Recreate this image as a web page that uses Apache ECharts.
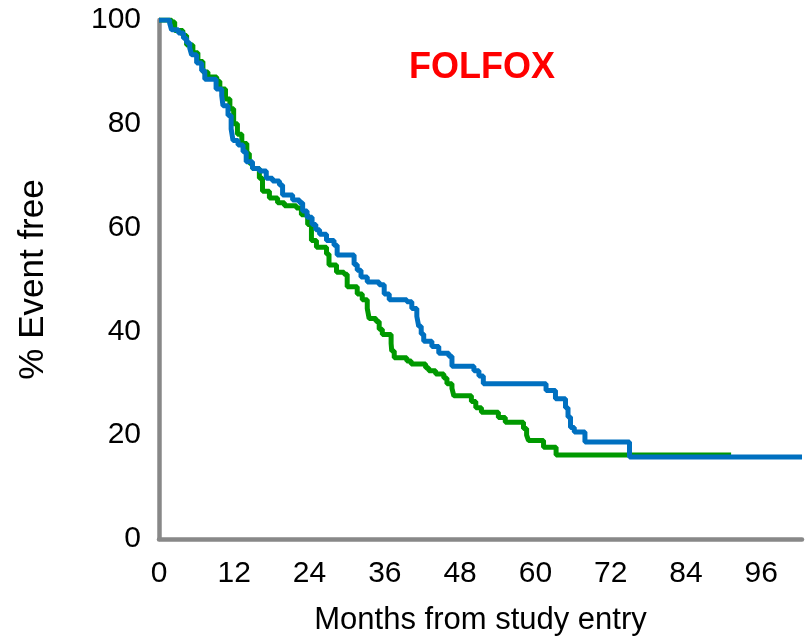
<!DOCTYPE html>
<html>
<head>
<meta charset="utf-8">
<script src="https://cdn.jsdelivr.net/npm/echarts@6/dist/echarts.min.js"></script>
<style>
  html, body { margin: 0; padding: 0; background: #fff; }
  #chart { width: 805px; height: 641px; }
</style>
</head>
<body>
<div id="chart"></div>
<script>
// x ticks (months) and y ticks (% event free)
var xTicks = [0, 12, 24, 36, 48, 60, 72, 84, 96];
var yTicks = [0, 20, 40, 60, 80, 100];

// Kaplan-Meier curves: [month, % event free] at each drop
var greenArm = [
    [0, 100], [2, 99.6], [2.5, 98], [3.8, 97], [4.4, 95.2], [5.4, 93.7], [6.2, 92],
    [7, 90], [7.8, 89], [9.2, 88.2], [9.7, 86.7], [10.6, 84.8], [11.3, 82.9],
    [11.9, 80], [12.5, 78], [13.2, 76.2], [14, 74.3], [14.4, 72.4], [14.9, 71.4],
    [16, 69.5], [16.5, 67], [17.6, 65.7], [18.9, 64.8], [20, 64.2], [21.9, 63.8],
    [22.7, 62.5], [23.7, 60.6], [24.3, 57.5], [25.1, 56.2], [26.7, 54.9], [27.1, 52.8],
    [28.3, 51.4], [29.5, 51], [30, 48.6], [31.6, 47.2], [32.4, 46.1], [33.2, 44.4],
    [33.5, 42.5], [34.6, 41.9], [35.1, 40.4], [35.6, 39.4], [37, 37.7], [37.1, 36.2],
    [37.5, 34.9], [39.5, 34.3], [40.2, 33.7], [42.5, 33], [43, 32.4], [44.1, 31.8],
    [45.4, 31], [45.9, 29.9], [46.7, 29], [47, 27.6], [49.8, 26.5], [50.5, 25.3],
    [51.4, 24.4], [54.1, 23.4], [55.2, 22.5], [58.1, 21.3], [58.6, 20], [58.9, 19],
    [61.3, 17.7], [63.3, 16.2], [91.2, 16.2]
];
var blueArm = [
    [0, 100], [1.7, 99.4], [2, 98.1], [3.1, 97.5], [3.9, 96.5], [4.4, 95.6], [4.9, 94.6],
    [5.2, 93.3], [6, 91.7], [6.8, 90.2], [7.3, 88.6], [9.1, 86.7], [10, 85.4],
    [10.2, 83.5], [11, 81.6], [11.5, 79], [11.8, 76.8], [12.6, 75.9], [13.4, 74.6],
    [13.9, 72.7], [14.9, 71.4], [16, 70.9], [17.1, 69.5], [18.1, 69], [19.2, 68.2],
    [19.7, 66.3], [21.3, 65.3], [22.4, 64.8], [22.9, 63.2], [23.6, 62], [24.4, 60.6],
    [25, 59.6], [25.6, 58.7], [26.7, 57.5], [27.9, 56.6], [28.4, 54.7], [31.1, 52.9],
    [31.6, 51.8], [32.2, 50.5], [33.2, 49.5], [35.1, 49], [35.9, 47.2], [36.7, 46.1],
    [39.5, 45.7], [40.3, 44.4], [41.1, 42.9], [41.4, 41], [41.8, 39.5], [42.2, 38.1],
    [43.5, 37.1], [44.6, 35.8], [46.2, 35.2], [46.7, 33.3], [50.2, 32.4], [51, 31.4],
    [51.7, 29.9], [61.7, 28.6], [63.2, 27], [64.8, 25.3], [65.2, 23.5], [65.6, 21.5],
    [66.2, 20.6], [67.9, 18.7], [75, 15.8], [102.5, 15.8]
];

var chart = echarts.init(document.getElementById('chart'));
var font = "'Liberation Sans', Arial, sans-serif";

var option = {
    backgroundColor: '#fff',
    animation: false,
    title: {
        text: 'FOLFOX',
        left: 404,
        top: 45,
        textStyle: { color: '#ff0000', fontSize: 36, fontWeight: 'bold', fontFamily: font }
    },
    grid: { left: 159, right: 0, top: 20, bottom: 96 },
    xAxis: {
        type: 'value',
        min: 0,
        max: 102.5,
        interval: 12,
        name: 'Months from study entry',
        nameLocation: 'middle',
        nameGap: 66,
        nameTextStyle: { color: '#000', fontSize: 31, fontFamily: font },
        axisLine: { onZero: false, lineStyle: { color: '#888', width: 4.5 } },
        axisTick: { show: false },
        splitLine: { show: false },
        axisLabel: {
            color: '#000', fontSize: 30, fontFamily: font, margin: 20,
            formatter: function (v) { return xTicks.indexOf(v) >= 0 ? String(v) : ''; }
        }
    },
    yAxis: {
        type: 'value',
        min: yTicks[0],
        max: yTicks[yTicks.length - 1],
        interval: 20,
        name: '% Event free',
        nameLocation: 'middle',
        nameGap: 108,
        nameTextStyle: { color: '#000', fontSize: 35, fontFamily: font },
        axisLine: { onZero: false, lineStyle: { color: '#888', width: 4.5 } },
        axisTick: { show: false },
        splitLine: { show: false },
        axisLabel: { color: '#000', fontSize: 30, fontFamily: font, margin: 18 }
    },
    series: [
        {
            type: 'line',
            step: 'end',
            data: greenArm,
            symbol: 'none',
            lineStyle: { color: '#009900', width: 5 },
            z: 2
        },
        {
            type: 'line',
            step: 'end',
            data: blueArm,
            symbol: 'none',
            lineStyle: { color: '#0070c0', width: 5 },
            z: 3
        }
    ]
};
chart.setOption(option);
</script>
</body>
</html>
